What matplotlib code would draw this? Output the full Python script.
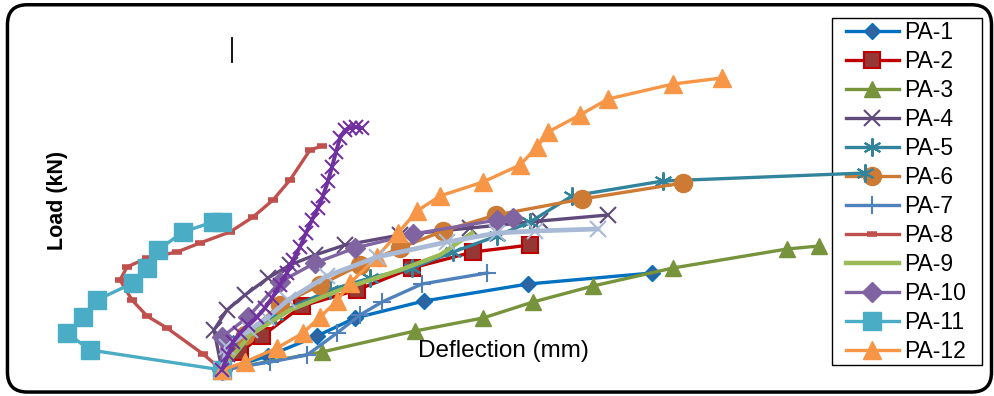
import matplotlib
matplotlib.use('Agg')
import matplotlib.pyplot as plt
from matplotlib.patches import FancyBboxPatch, Rectangle
from matplotlib.lines import Line2D

# Deflection (mm) and load (kN) per specimen
pa1_d = [0, 4.6, 9.5, 13.3, 20.2, 30.6, 43.0]
pa1_l = [0, 7, 17, 26, 34.5, 43, 48.5]
pa2_d = [0, 1.8, 4.0, 8.0, 13.5, 19.0, 25.1, 30.8]
pa2_l = [0, 9, 17, 32, 40, 51, 59, 62.5]
pa3_d = [0, 10.0, 19.3, 26.1, 31.1, 37.1, 45.1, 56.5, 59.7]
pa3_l = [0, 9, 19.5, 26, 34, 42, 51, 60.5, 62]
pa4_d = [0, -0.8, 0.5, 2.3, 4.6, 6.8, 9.3, 12.3, 17.8, 24.8, 31.8, 38.6]
pa4_l = [0, 20, 30, 37.5, 46, 52.5, 57.5, 62.5, 67.5, 71, 74.5, 77.5]
pa5_d = [0, 1.8, 5.3, 10.8, 14.8, 19.0, 23.1, 27.5, 30.8, 35.0, 44.1, 64.3]
pa5_l = [0, 15, 27.5, 40, 46, 51, 59, 67, 74, 87, 94.5, 98.5]
pa6_d = [0, 2.3, 5.8, 9.8, 13.8, 17.8, 22.1, 27.4, 36.0, 46.1]
pa6_l = [0, 17.5, 32.5, 42.5, 52.5, 61, 69.5, 77.5, 85.5, 93.5]
pa7_d = [0, 4.8, 8.5, 11.5, 13.8, 16.0, 20.0, 26.5]
pa7_l = [0, 4, 7.5, 18.5, 27.5, 34, 43, 48.5]
pa8_d = [0, -1.9, -5.5, -7.5, -9.0, -10.2, -9.5, -7.5, -4.5, -2.2, 0.8, 3.1, 5.1, 6.8, 8.8, 10.0]
pa8_l = [0, 8, 21, 27, 35, 45, 51.5, 56, 59, 63.5, 69, 76.5, 85, 95, 110, 112]
pa9_d = [0, 2.8, 6.8, 11.8, 17.8, 21.8, 25.0]
pa9_l = [0, 17.5, 30, 40, 50, 57.5, 68.5]
pa10_d = [0, 0, 2.6, 5.8, 9.3, 13.3, 19.1, 27.5, 29.1]
pa10_l = [0, 16.5, 26.5, 44, 53.5, 61, 68, 75, 76]
pa11_d = [0, -13.2, -15.5, -13.9, -12.5, -8.9, -7.5, -6.4, -3.9, -0.9, 0]
pa11_l = [0, 10, 18.5, 26.5, 35, 43.5, 51, 60, 69, 74, 74]
pa12_d = [0, 2.3, 5.5, 8.1, 9.8, 11.5, 12.8, 15.5, 17.6, 19.5, 21.8, 26.1, 29.8, 31.5, 32.6, 35.8, 38.6, 45.1, 50.0]
pa12_l = [0, 4, 11, 18.5, 26.5, 34.5, 43.5, 56.5, 68.5, 79.5, 87, 94, 102.5, 111.5, 119, 127.5, 135.5, 143, 146]
# two more series that are plotted but not in the legend
pa13_d = [0, 0.5, 2.8, 4.5, 6.6, 10.5, 15.5, 22.5, 27.5, 31.3, 37.6]
pa13_l = [0, 11.5, 20, 26, 35, 47, 56.5, 64, 68.5, 69.5, 70.5]
pa14_d = [0, 0.6, 1.1, 1.8, 2.6, 3.5, 4.3, 5.0, 5.8, 6.5, 7.1, 7.8, 8.4, 9.0, 9.6, 10.1,
          10.6, 11.0, 11.4, 11.8, 12.3, 12.8, 13.4, 14.0]
pa14_l = [0, 7.5, 14, 18.5, 22.5, 26.5, 31, 36, 42.5, 48.5, 55, 61.5, 68.5, 75, 81, 87,
          94.5, 101.5, 109, 116, 120, 121, 121.5, 121]

fig = plt.figure(figsize=(9.94, 3.96), dpi=100)
ax = fig.add_axes([0, 0, 1, 1])
ax.set_xlim(-22.2, 77.2)
ax.set_ylim(-13, 185)
ax.axis('off')

lw = 2.4
ax.plot(pa1_d, pa1_l, color='#0070C0', lw=lw, marker='D', ms=8, mfc='#2F64A0', mec='#0070C0', label='PA-1')
ax.plot(pa2_d, pa2_l, color='#C00000', lw=lw, marker='s', ms=11, mfc='#953735', mec='#C00000', mew=1.5, label='PA-2')
ax.plot(pa3_d, pa3_l, color='#77933C', lw=lw, marker='^', ms=12, label='PA-3')
ax.plot(pa4_d, pa4_l, color='#604A7B', lw=lw, marker='x', ms=11, mec='#604A7B', mew=1.5, label='PA-4')
ax.plot(pa5_d, pa5_l, color='#31849B', lw=lw, marker=(6, 2, 0), ms=13, mew=1.5, label='PA-5')
ax.plot(pa6_d, pa6_l, color='#CD7A35', lw=lw, marker='o', ms=13, label='PA-6')
ax.plot(pa7_d, pa7_l, color='#4F81BD', lw=lw, marker='+', ms=13, mew=1.5, label='PA-7')
ax.plot(pa8_d, pa8_l, color='#C0504D', lw=lw, marker='_', ms=7, mew=4, label='PA-8')
ax.plot(pa9_d, pa9_l, color='#9BBB59', lw=lw + 0.8, label='PA-9')
ax.plot(pa10_d, pa10_l, color='#8064A2', lw=lw, marker='D', ms=10, label='PA-10')
ax.plot(pa11_d, pa11_l, color='#4BACC6', lw=lw, marker='s', ms=13, label='PA-11')
ax.plot(pa12_d, pa12_l, color='#F79646', lw=lw, marker='^', ms=13, label='PA-12')
ax.plot(pa13_d, pa13_l, color='#A8BAD6', lw=lw + 1, marker='x', ms=12, mew=1.5)
ax.plot(pa14_d, pa14_l, color='#7030A0', lw=lw + 0.4, marker='x', ms=10, mew=1.5)

# legend box drawn under the lines, legend entries without their own frame
ax.add_patch(Rectangle((0.837, 0.078), 0.151, 0.876, transform=fig.transFigure,
                       facecolor='white', edgecolor='black', lw=1.0, zorder=1))
handles, labels = ax.get_legend_handles_labels()
leg = ax.legend(handles[:12], labels[:12], loc='upper left', bbox_to_anchor=(0.851, 0.948),
                prop={'family': 'Liberation Sans', 'size': 16.5}, frameon=False,
                handlelength=2.3, handletextpad=0.25, labelspacing=0.265,
                borderpad=0, borderaxespad=0, markerscale=1.0)
leg.set_zorder(1.5)

fig.text(0.058, 0.495, 'Load (kN)', rotation=90, ha='center', va='center',
         fontsize=15.5, fontweight='bold', family='Liberation Sans')
fig.text(0.506, 0.113, 'Deflection (mm)', ha='center', va='center',
         fontsize=17.5, family='Liberation Sans')

# stray cursor mark and the rounded chart border
fig.add_artist(Line2D([0.2335, 0.2335], [0.843, 0.905], color='black', lw=1.3))
border = FancyBboxPatch((0.0075, 0.01), 0.99, 0.978, boxstyle='round,pad=0,rounding_size=0.02',
                        transform=fig.transFigure, fill=False, edgecolor='black', lw=2.5,
                        mutation_aspect=2.5)
fig.add_artist(border)

plt.savefig('out.png', dpi=100)
